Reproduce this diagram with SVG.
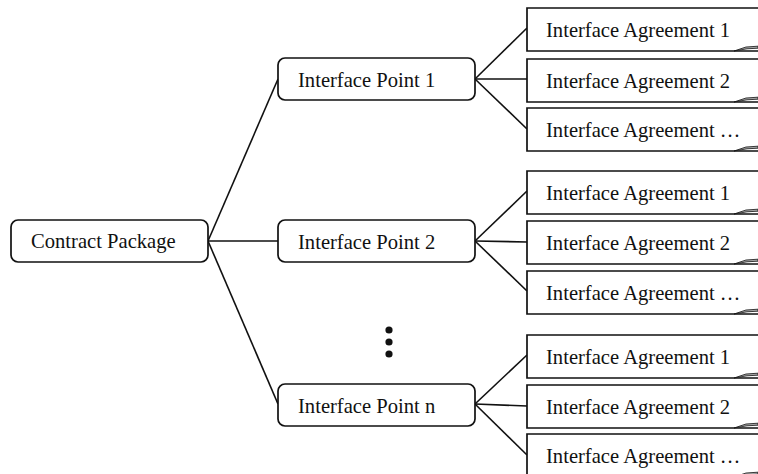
<svg xmlns="http://www.w3.org/2000/svg" width="758" height="474" viewBox="0 0 758 474">
<style>
.rb{fill:#fff;stroke:#111;stroke-width:1.7}
.ab{fill:#fff;stroke:#111;stroke-width:1.7}
.t{font-family:'Liberation Serif','Times New Roman',Tinos,'DejaVu Serif',serif;font-size:20.6px;fill:#111}
.c{stroke:#111;stroke-width:1.6;fill:none}
.w{fill:#aaa;stroke:#111;stroke-width:0.8}
</style>
<defs>
<g id="agr">
<path class="ab" d="M760,0 L527,0 L527,43 L760,43"/>
<polygon class="w" points="734,43 746,39 758,38.2 758,40.2 747,40.8"/>
</g>
</defs>
<rect width="758" height="474" fill="#fff"/>
<g id="connectors">
<line class="c" x1="208" y1="241" x2="278" y2="79"/>
<line class="c" x1="208" y1="241" x2="278" y2="241"/>
<line class="c" x1="208" y1="241" x2="278" y2="404"/>
<line class="c" x1="475" y1="79" x2="527" y2="28"/>
<line class="c" x1="475" y1="79" x2="527" y2="79"/>
<line class="c" x1="475" y1="79" x2="527" y2="129"/>
<line class="c" x1="475" y1="241" x2="527" y2="191"/>
<line class="c" x1="475" y1="241" x2="527" y2="242"/>
<line class="c" x1="475" y1="241" x2="527" y2="291"/>
<line class="c" x1="475" y1="404" x2="527" y2="355"/>
<line class="c" x1="475" y1="404" x2="527" y2="406"/>
<line class="c" x1="475" y1="404" x2="527" y2="455"/>
</g>
<g id="contract-package">
<rect class="rb" x="11" y="220" width="197" height="42" rx="7"/>
<text class="t" x="31" y="248">Contract Package</text>
</g>
<g id="ip1">
<rect class="rb" x="278" y="58" width="197" height="42" rx="7"/>
<text class="t" x="298" y="87">Interface Point 1</text>
</g>
<g id="ip2">
<rect class="rb" x="278" y="220" width="197" height="42" rx="7"/>
<text class="t" x="298" y="249">Interface Point 2</text>
</g>
<g id="ipn">
<rect class="rb" x="278" y="384" width="197" height="42" rx="7"/>
<text class="t" x="298" y="413">Interface Point n</text>
</g>
<g id="dots" fill="#111">
<circle cx="389" cy="330" r="3.6"/>
<circle cx="389" cy="342" r="3.6"/>
<circle cx="389" cy="354" r="3.6"/>
</g>
<g id="a1-1"><use href="#agr" y="8"/><text class="t" x="546" y="37">Interface Agreement 1</text></g>
<g id="a1-2"><use href="#agr" y="59"/><text class="t" x="546" y="88">Interface Agreement 2</text></g>
<g id="a1-3"><use href="#agr" y="108"/><text class="t" x="546" y="137">Interface Agreement …</text></g>
<g id="a2-1"><use href="#agr" y="171"/><text class="t" x="546" y="200">Interface Agreement 1</text></g>
<g id="a2-2"><use href="#agr" y="221"/><text class="t" x="546" y="250">Interface Agreement 2</text></g>
<g id="a2-3"><use href="#agr" y="271"/><text class="t" x="546" y="300">Interface Agreement …</text></g>
<g id="a3-1"><use href="#agr" y="335"/><text class="t" x="546" y="364">Interface Agreement 1</text></g>
<g id="a3-2"><use href="#agr" y="385"/><text class="t" x="546" y="414">Interface Agreement 2</text></g>
<g id="a3-3"><use href="#agr" y="434"/><text class="t" x="546" y="463">Interface Agreement …</text></g>
</svg>
